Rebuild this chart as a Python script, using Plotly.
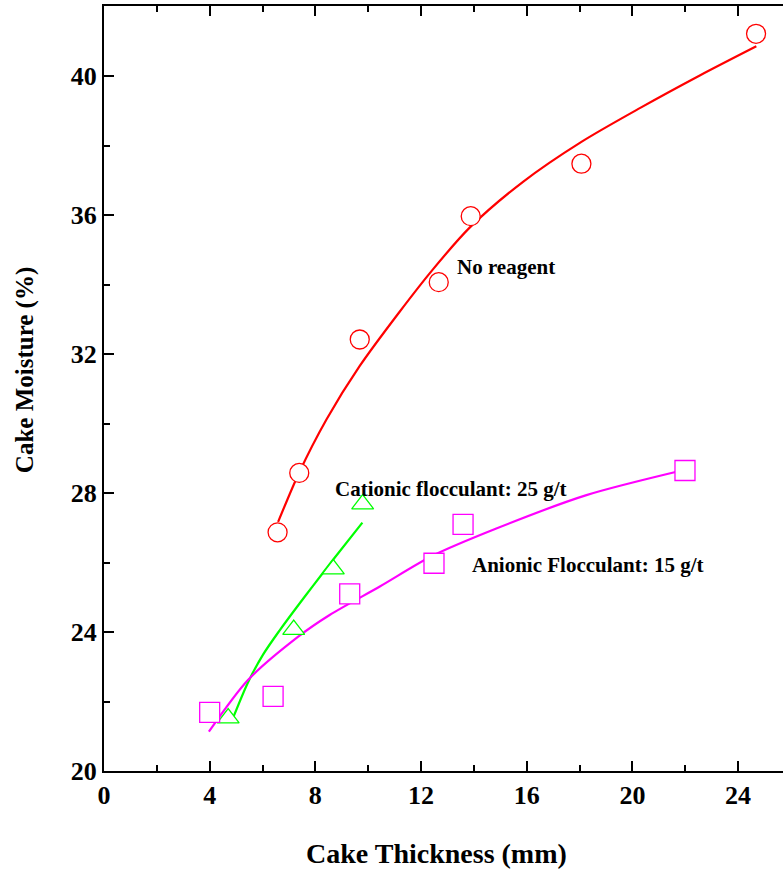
import plotly.graph_objects as go

# Measured points
no_reagent_x = [6.57, 7.39, 9.68, 12.67, 13.88, 18.07, 24.68]
no_reagent_y = [26.87, 28.58, 32.42, 34.07, 35.97, 37.48, 41.22]

cationic_x = [4.70, 7.18, 8.68, 9.79]
cationic_y = [21.52, 24.07, 25.81, 27.68]

anionic_x = [4.00, 6.40, 9.30, 12.49, 13.59, 21.99]
anionic_y = [21.69, 22.15, 25.10, 25.98, 27.10, 28.65]

# Fitted trend curves
no_reagent_fit_x = [6.59, 7.38, 8.42, 9.68, 11.19, 12.45, 13.84, 15.86, 18.07, 20.28, 22.55, 24.69]
no_reagent_fit_y = [27.17, 28.58, 30.12, 31.66, 33.22, 34.44, 35.64, 36.96, 38.11, 39.08, 40.02, 40.86]

cationic_fit_x = [4.88, 5.45, 6.02, 6.65, 7.28, 7.91, 8.67, 9.78]
cationic_fit_y = [21.52, 22.55, 23.35, 24.05, 24.70, 25.33, 26.08, 27.15]

anionic_fit_x = [3.97, 5.45, 7.34, 8.54, 10.44, 12.45, 14.85, 18.26, 21.99]
anionic_fit_y = [21.13, 22.62, 23.86, 24.49, 25.31, 26.20, 26.98, 27.94, 28.67]

labels = ["No reagent", "Cationic flocculant: 25 g/t", "Anionic Flocculant: 15 g/t"]
label_x = [13.30, 8.65, 13.85]
label_y = [34.50, 28.13, 25.94]

RED = "#FF0000"
GREEN = "#00FF00"
MAGENTA = "#FF00FF"
FONT = "Liberation Serif"

fig = go.Figure()

# trend lines first, markers on top with white fill
for fx, fy, col in [
    (no_reagent_fit_x, no_reagent_fit_y, RED),
    (cationic_fit_x, cationic_fit_y, GREEN),
    (anionic_fit_x, anionic_fit_y, MAGENTA),
]:
    fig.add_trace(go.Scatter(x=fx, y=fy, mode="lines",
                             line=dict(color=col, width=2.2, shape="spline", smoothing=0.8),
                             hoverinfo="skip", showlegend=False))

for px, py, col, sym, size in [
    (no_reagent_x, no_reagent_y, RED, "circle", 19),
    (cationic_x, cationic_y, GREEN, "triangle-up", 19),
    (anionic_x, anionic_y, MAGENTA, "square", 20),
]:
    fig.add_trace(go.Scatter(x=px, y=py, mode="markers",
                             marker=dict(symbol=sym, size=size, color="white",
                                         line=dict(color=col, width=1.3)),
                             showlegend=False))

for t, lx, ly in zip(labels, label_x, label_y):
    fig.add_annotation(x=lx, y=ly, text=t, showarrow=False, xanchor="left", yanchor="middle",
                       font=dict(family=FONT, size=21, color="black", weight="bold"))

# axis titles
fig.add_annotation(xref="paper", yref="paper", x=0.4895, y=-0.108, text="Cake Thickness (mm)",
                   showarrow=False, xanchor="center", yanchor="middle",
                   font=dict(family=FONT, size=28, color="black", weight="bold"))
fig.add_annotation(xref="paper", yref="paper", x=-0.1163, y=0.524, text="Cake Moisture (%)",
                   showarrow=False, xanchor="center", yanchor="middle", textangle=-90,
                   font=dict(family=FONT, size=25, color="black", weight="bold"))

tickfont = dict(family=FONT, size=26, color="black", weight="bold")

fig.update_layout(
    width=783, height=871,
    margin=dict(l=104, r=0, t=6, b=100),
    paper_bgcolor="white", plot_bgcolor="white",
    xaxis=dict(range=[0, 25.7], tick0=0, dtick=4, ticks="inside", ticklen=10, tickwidth=2,
               tickcolor="black", showline=True, linewidth=2, linecolor="black",
               mirror="ticks", showgrid=False, zeroline=False, tickfont=tickfont,
               minor=dict(tick0=0, dtick=2, ticks="inside", ticklen=6, tickwidth=2, tickcolor="black")),
    yaxis=dict(range=[20, 42.02], tick0=20, dtick=4, ticks="inside", ticklen=10, tickwidth=2,
               tickcolor="black", showline=True, linewidth=2, linecolor="black",
               mirror=False, showgrid=False, zeroline=False, tickfont=tickfont,
               minor=dict(tick0=20, dtick=2, ticks="inside", ticklen=6, tickwidth=2, tickcolor="black")),
    yaxis2=dict(range=[20, 42.02], overlaying="y", side="right", tick0=20, dtick=4,
                ticks="inside", ticklen=5, tickwidth=2, tickcolor="black",
                showline=False, showgrid=False, zeroline=False, showticklabels=False),
)

fig.write_html("out.html")
